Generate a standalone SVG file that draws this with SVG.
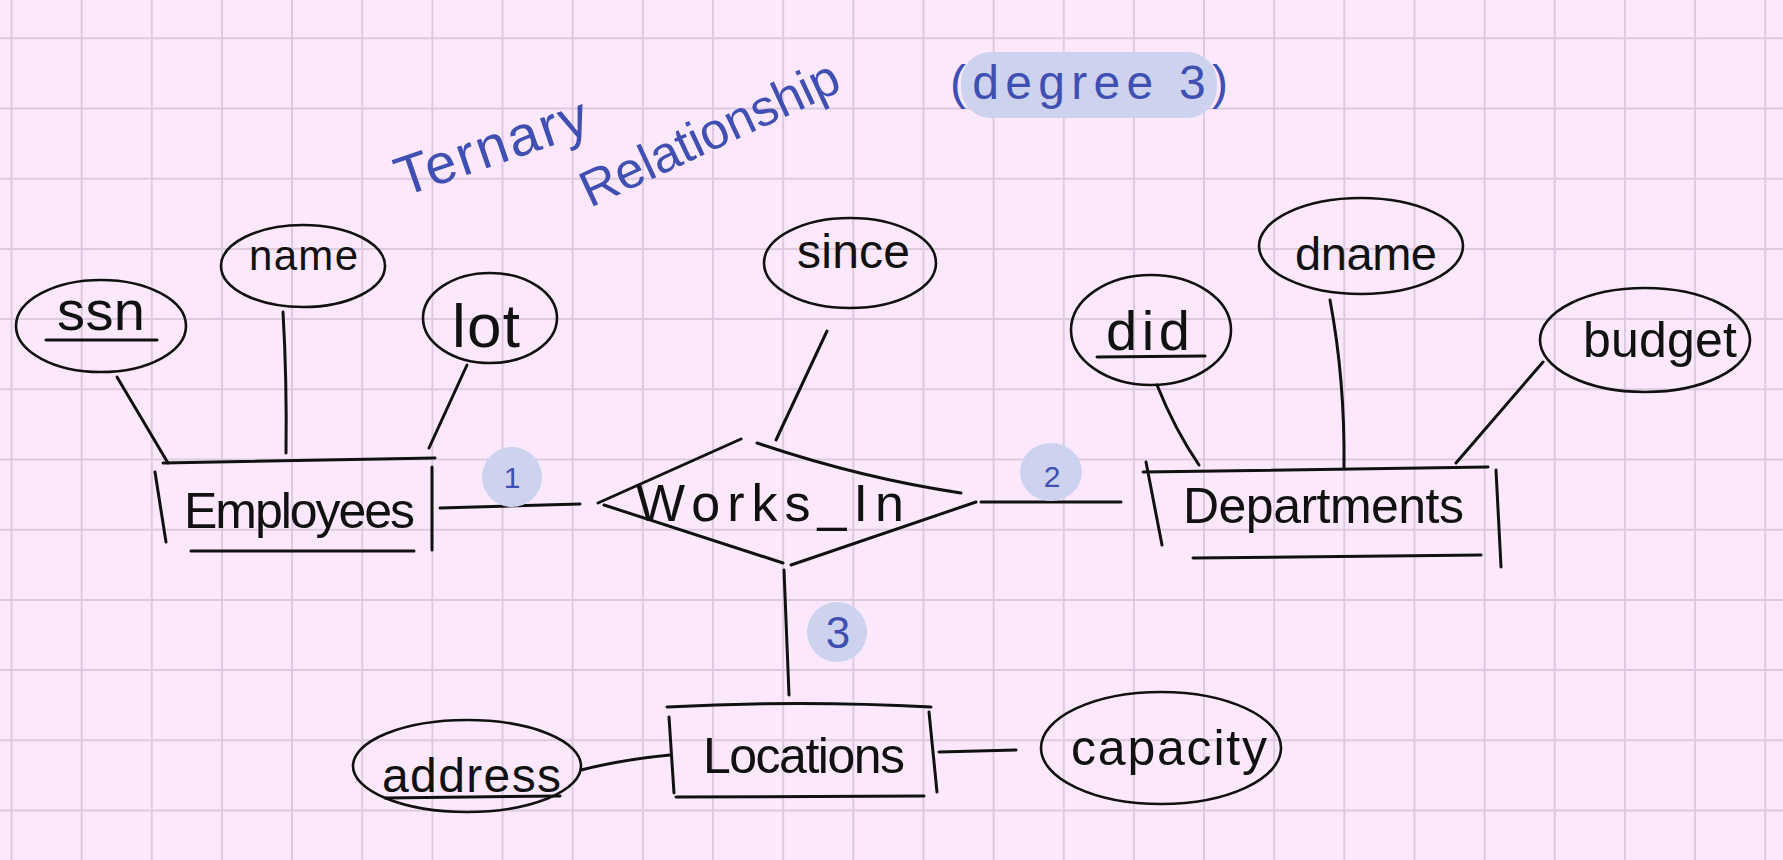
<svg xmlns="http://www.w3.org/2000/svg" width="1783" height="860" viewBox="0 0 1783 860">
<style>
.bg{fill:#fce8fc}
.grid{stroke:#dccae0;stroke-width:2;fill:none}
.ln{stroke:#111;stroke-width:3;fill:none;stroke-linecap:round}
.el{stroke:#111;stroke-width:2.6;fill:none}
.t{font-family:"Liberation Sans","DejaVu Sans",sans-serif;fill:#111}
.bt{font-family:"Liberation Sans","DejaVu Sans",sans-serif;fill:#3f4fb2}
.badge{fill:#cdd3ee}
</style>
<rect class="bg" x="0" y="0" width="1783" height="860"/>
<path class="grid" d="M11.5,0V860M81.65,0V860M151.8,0V860M221.95,0V860M292.1,0V860M362.25,0V860M432.4,0V860M502.55,0V860M572.7,0V860M642.85,0V860M713,0V860M783.15,0V860M853.3,0V860M923.45,0V860M993.6,0V860M1063.75,0V860M1133.9,0V860M1204.05,0V860M1274.2,0V860M1344.35,0V860M1414.5,0V860M1484.65,0V860M1554.8,0V860M1624.95,0V860M1695.1,0V860M1765.25,0V860M0,38.3H1783M0,108.5H1783M0,178.7H1783M0,248.9H1783M0,319.1H1783M0,389.3H1783M0,459.5H1783M0,529.7H1783M0,599.9H1783M0,670.1H1783M0,740.3H1783M0,810.5H1783"/>

<g id="title">
  <rect class="badge" x="961" y="52" width="256" height="66" rx="30"/>
  <text class="bt" x="950" y="99" font-size="48" textLength="278">(degree 3)</text>
  <text class="bt" transform="translate(403,197) rotate(-19)" font-size="56" textLength="200">Ternary</text>
  <text class="bt" transform="translate(590,208) rotate(-25)" font-size="51" textLength="280">Relationship</text>
</g>

<g id="connectors">
  <path class="ln" d="M117,377 L168,463"/>
  <path class="ln" d="M283,312 Q287,380 286,453"/>
  <path class="ln" d="M467,365 L429,448"/>
  <path class="ln" d="M827,331 L776,440"/>
  <path class="ln" d="M1157,385 Q1175,430 1199,465"/>
  <path class="ln" d="M1330,300 Q1345,380 1344,467"/>
  <path class="ln" d="M1543,362 L1456,463"/>
  <path class="ln" d="M581,770 Q620,760 670,755"/>
  <path class="ln" d="M939,752 L1016,750"/>
  <path class="ln" d="M440,508 L580,504"/>
  <path class="ln" d="M981,502 L1121,502"/>
  <path class="ln" d="M784,570 L789,695"/>
  <g id="card1"><ellipse class="badge" cx="512" cy="477" rx="30" ry="30"/><text class="bt" x="512" y="488" font-size="30" text-anchor="middle">1</text></g>
  <g id="card2"><ellipse class="badge" cx="1051" cy="472" rx="31" ry="29"/><text class="bt" x="1052" y="487" font-size="30" text-anchor="middle">2</text></g>
  <g id="card3"><ellipse class="badge" cx="837" cy="632" rx="30" ry="30"/><text class="bt" x="838" y="648" font-size="44" text-anchor="middle">3</text></g>
</g>

<g id="attr-ssn">
  <ellipse class="el" cx="101" cy="326" rx="85" ry="46"/>
  <text class="t" x="57" y="330" font-size="56" textLength="88">ssn</text>
  <path class="ln" d="M46,340 L157,340"/>
</g>
<g id="attr-name">
  <ellipse class="el" cx="303" cy="266" rx="82" ry="41"/>
  <text class="t" x="249" y="270" font-size="42" textLength="109">name</text>
</g>
<g id="attr-lot">
  <ellipse class="el" cx="490" cy="318" rx="67" ry="45"/>
  <text class="t" x="452" y="347" font-size="62" textLength="68">lot</text>
</g>
<g id="attr-since">
  <ellipse class="el" cx="850" cy="263" rx="86" ry="45"/>
  <text class="t" x="797" y="268" font-size="48" textLength="113">since</text>
</g>
<g id="attr-did">
  <ellipse class="el" cx="1151" cy="330" rx="80" ry="55"/>
  <text class="t" x="1106" y="350" font-size="56" textLength="84">did</text>
  <path class="ln" d="M1097,357 L1205,356"/>
</g>
<g id="attr-dname">
  <ellipse class="el" cx="1361" cy="246" rx="102" ry="48"/>
  <text class="t" x="1295" y="270" font-size="47" textLength="142">dname</text>
</g>
<g id="attr-budget">
  <ellipse class="el" cx="1645" cy="340" rx="105" ry="52"/>
  <text class="t" x="1583" y="357" font-size="50" textLength="154">budget</text>
</g>
<g id="attr-address">
  <ellipse class="el" cx="467" cy="766" rx="114" ry="46"/>
  <text class="t" x="382" y="792" font-size="48" textLength="179">address</text>
  <path class="ln" d="M385,798 L560,796"/>
</g>
<g id="attr-capacity">
  <ellipse class="el" cx="1161" cy="748" rx="120" ry="56"/>
  <text class="t" x="1071" y="765" font-size="50" textLength="196">capacity</text>
</g>

<g id="entity-employees">
  <path class="ln" d="M163,463 L435,458 M155,472 L166,542 M432,467 L432,550 M191,551 L414,551"/>
  <text class="t" x="184" y="528" font-size="50" textLength="231">Employees</text>
</g>
<g id="entity-departments">
  <path class="ln" d="M1143,472 L1488,467 M1146,462 L1162,545 M1496,470 L1501,567 M1193,558 L1481,555"/>
  <text class="t" x="1183" y="523" font-size="50" textLength="281">Departments</text>
</g>
<g id="entity-locations">
  <path class="ln" d="M667,707 Q800,700 931,707 M669,717 L674,793 M929,712 L937,792 M676,797 L924,796"/>
  <text class="t" x="703" y="773" font-size="50" textLength="202">Locations</text>
</g>
<g id="rel-works-in">
  <path class="ln" d="M598,503 L741,439 M757,443 Q860,478 961,493 M976,502 L791,565 M783,563 L604,505"/>
  <text class="t" x="636" y="521" font-size="52" textLength="268">Works_In</text>
</g>
</svg>
